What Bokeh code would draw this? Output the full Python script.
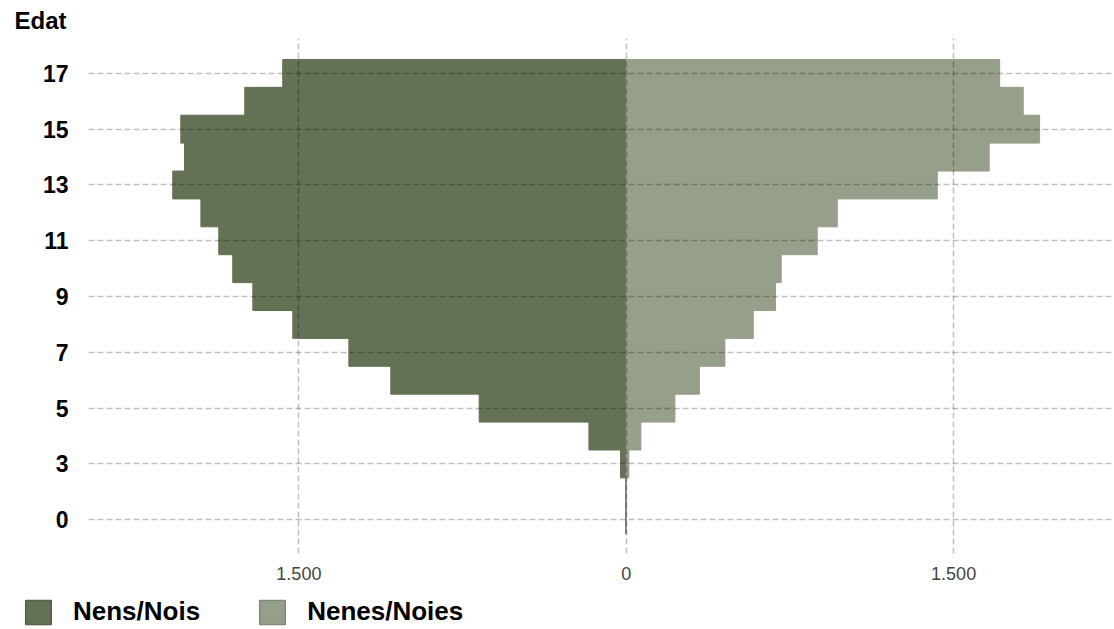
from bokeh.plotting import figure
from bokeh.models import FixedTicker, Range1d, Title, Legend, LegendItem
from bokeh.embed import file_html
from bokeh.resources import INLINE

# ---- data ----
ages = ["0", "2", "3", "4", "5", "6", "7", "8", "9", "10", "11", "12",
        "13", "14", "15", "16", "17"]
boys = [3, 3, 26, 171, 674, 1079, 1271, 1528, 1711, 1803, 1867, 1949,
        2078, 2024, 2041, 1748, 1574]          # Nens/Nois (left side)
girls = [0, 0, 12, 67, 223, 335, 452, 582, 684, 710, 875, 967,
         1425, 1663, 1894, 1819, 1711]         # Nenes/Noies (right side)
x_ticks = [-1500, 0, 1500]
x_tick_labels = ["1.500", "0", "1.500"]
series_names = ["Nens/Nois", "Nenes/Noies"]

DARK = "#647155"
LIGHT = "#969f8a"
FONT = "Liberation Sans"
W = 1112

ypos = list(range(len(ages)))

p = figure(width=W, height=585, output_backend="svg", toolbar_location=None,
           x_range=Range1d(-2464, 2228), y_range=Range1d(-1.21, 17.25),
           min_border_left=88, min_border_right=0, min_border_top=36,
           min_border_bottom=32)
p.outline_line_color = None

r_boys = p.hbar(y=ypos, left=[-v for v in boys], right=[0] * len(boys), height=1,
                fill_color=DARK, line_color=DARK, line_width=1)
r_girls = p.hbar(y=ypos, left=[0] * len(girls), right=girls, height=1,
                 fill_color=LIGHT, line_color=LIGHT, line_width=1)

# axes
p.yaxis.ticker = FixedTicker(ticks=ypos[::2])
p.yaxis.major_label_overrides = {i: ages[i] for i in ypos[::2]}
p.yaxis.major_label_text_font = FONT
p.yaxis.major_label_text_font_size = "23px"
p.yaxis.major_label_text_font_style = "bold"
p.yaxis.major_label_text_color = "black"
p.yaxis.major_label_standoff = 14
p.yaxis.axis_line_color = None
p.yaxis.major_tick_line_color = None
p.yaxis.minor_tick_line_color = None

p.xaxis.ticker = FixedTicker(ticks=x_ticks)
p.xaxis.major_label_overrides = dict(zip(x_ticks, x_tick_labels))
p.xaxis.major_label_text_font = FONT
p.xaxis.major_label_text_font_size = "18px"
p.xaxis.major_label_text_color = "#444444"
p.xaxis.major_label_standoff = 7
p.xaxis.axis_line_color = None
p.xaxis.major_tick_line_color = None
p.xaxis.minor_tick_line_color = None

# grids drawn over bars, dashed, translucent
for g in (p.xgrid, p.ygrid):
    g.level = "annotation"
    g.grid_line_color = "black"
    g.grid_line_alpha = 0.25
    g.grid_line_width = 1.5
    g.grid_line_dash = "6 3"

# "Edat" title, top-left
p.add_layout(Title(text="Edat", align="left", offset=-74, standoff=9,
                   text_font=FONT, text_font_size="24px", text_font_style="bold",
                   text_color="black"), "above")

# ---- legend strip below the chart (separate root, not frame-aligned) ----
lg = figure(width=W, height=44, output_backend="svg", toolbar_location=None,
            x_range=Range1d(0, 1), y_range=Range1d(0, 1),
            x_axis_type=None, y_axis_type=None, min_border=0,
            border_fill_color="white", background_fill_color="white")
lg.outline_line_color = None
lg.grid.visible = False
# zero-size swatch renderers: they draw nothing themselves, only feed the legend
k_boys = lg.hbar(y=[0.5], left=[0.5], right=[0.5], height=0,
                 fill_color=DARK, line_color="#55604a", line_width=1.5)
k_girls = lg.hbar(y=[0.5], left=[0.5], right=[0.5], height=0,
                  fill_color=LIGHT, line_color="#7f8876", line_width=1.5)

legend = Legend(items=[LegendItem(label=series_names[0], renderers=[k_boys]),
                       LegendItem(label=series_names[1], renderers=[k_girls])],
                orientation="horizontal", location=(22, 2),
                glyph_width=32, glyph_height=30, label_standoff=19, spacing=56,
                padding=0, margin=0, border_line_color=None,
                background_fill_alpha=0,
                label_text_font=FONT, label_text_font_size="26px",
                label_text_font_style="bold", label_text_color="black")
lg.add_layout(legend)

open("out.html", "w").write(file_html([p, lg], INLINE))
